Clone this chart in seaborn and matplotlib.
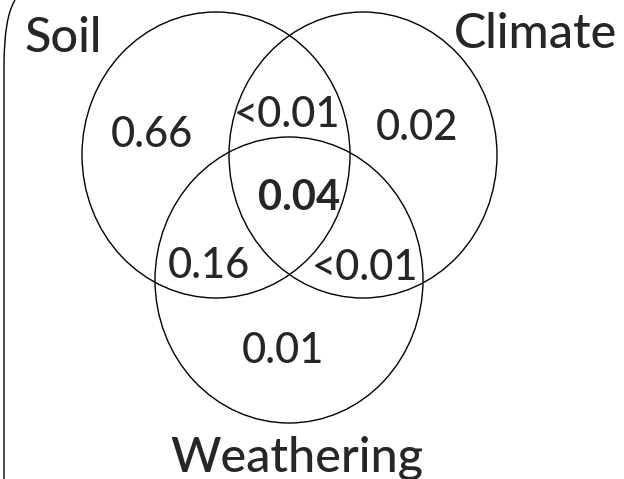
import matplotlib.pyplot as plt
import seaborn as sns
from matplotlib.patches import Ellipse, PathPatch
from matplotlib.path import Path

# set names and the shares of each region
sets = ['Soil', 'Climate', 'Weathering']
regions = ['Soil only', 'Soil & Climate', 'Climate only', 'All three',
           'Soil & Weathering', 'Climate & Weathering', 'Weathering only']
values = ['0.66', '<0.01', '0.02', '0.04', '0.16', '<0.01', '0.01']

# layout in pixel coordinates (y grows downward)
set_centers = [(216, 155), (363, 155), (289, 280)]
set_size = (268, 286)
set_label_pos = [(63, 52), (536, 48), (297, 471)]
value_pos = [(152, 147), (287, 127), (417, 140), (299, 210),
             (209, 278), (365, 280), (283, 363)]

sns.set_style('white')
plt.rcParams['font.family'] = ['Lato', 'DejaVu Sans']

fig = plt.figure(figsize=(6.24, 4.79), dpi=100)
ax = fig.add_axes([0, 0, 1, 1])
ax.set_xlim(0, 624)
ax.set_ylim(479, 0)
ax.set_aspect('equal')
ax.axis('off')

# 三个集合的椭圆
for c in set_centers:
    ax.add_patch(Ellipse(c, set_size[0], set_size[1], fill=False,
                         edgecolor='black', linewidth=1.0))

# left bracket edge
verts = [(15, 0), (4, 18), (4, 65), (4, 480)]
codes = [Path.MOVETO, Path.CURVE3, Path.CURVE3, Path.LINETO]
ax.add_patch(PathPatch(Path(verts, codes), fill=False,
                       edgecolor='black', linewidth=1.0))

for name, (x, y) in zip(sets, set_label_pos):
    ax.text(x, y, name, fontsize=35, ha='center', va='baseline',
            fontweight='medium')

for i, (v, (x, y)) in enumerate(zip(values, value_pos)):
    weight = 'bold' if regions[i] == 'All three' else 'medium'
    ax.text(x, y, v, fontsize=30, ha='center', va='baseline',
            fontweight=weight)

plt.savefig('out.png', dpi=100)
